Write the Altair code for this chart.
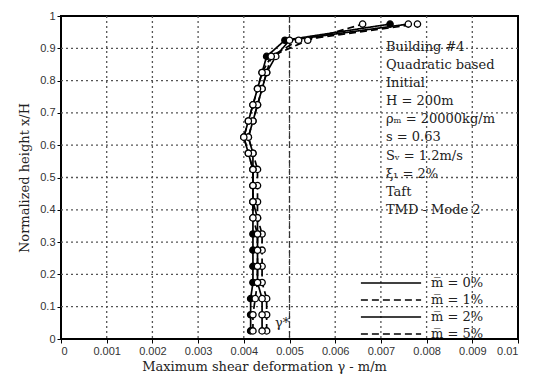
import altair as alt
import pandas as pd

heights = [0.025, 0.075, 0.125, 0.175, 0.225, 0.275, 0.325, 0.375, 0.425, 0.475,
           0.525, 0.575, 0.625, 0.675, 0.725, 0.775, 0.825, 0.875, 0.925, 0.975]

series_names = ["m̅ = 0%", "m̅ = 1%", "m̅ = 2%", "m̅ = 5%"]

s0 = [0.00415, 0.00415, 0.00415, 0.0042, 0.0042, 0.0042, 0.0042, 0.0042, 0.0042, 0.0042,
      0.0042, 0.0041, 0.0040, 0.0041, 0.0042, 0.0043, 0.0044, 0.0045, 0.0049, 0.0072]
s1 = [0.0045, 0.0045, 0.0045, 0.0044, 0.0044, 0.0044, 0.0044, 0.0043, 0.0043, 0.0043,
      0.0043, 0.0042, 0.0041, 0.0042, 0.0043, 0.0044, 0.0045, 0.0046, 0.0052, 0.0078]
s2 = [0.0044, 0.0044, 0.0044, 0.0043, 0.0043, 0.0043, 0.0043, 0.0043, 0.0042, 0.0042,
      0.0042, 0.0042, 0.0041, 0.0042, 0.0043, 0.0044, 0.0045, 0.0047, 0.0050, 0.0076]
s3 = [0.0042, 0.0042, 0.00425, 0.0043, 0.0043, 0.0043, 0.0043, 0.0042, 0.0042, 0.0042,
      0.0042, 0.0041, 0.0040, 0.0041, 0.0042, 0.0043, 0.0044, 0.0046, 0.0054, 0.0066]

gamma_star = [0.005]

ann_lines = ["Building #4", "Quadratic based", "Initial", "H = 200m",
             "ρₘ = 20000kg/m", "s = 0.63", "Sᵥ = 1.2m/s", "ξ₁ = 2%", "Taft", "TMD - Mode 2"]
ann_y = [0.904, 0.848, 0.792, 0.736, 0.680, 0.624, 0.568, 0.512, 0.456, 0.400]
ann_x = 0.00711

x_ticks = [0, 0.001, 0.002, 0.003, 0.004, 0.005, 0.006, 0.007, 0.008, 0.009, 0.01]
y_ticks = [0, 0.1, 0.2, 0.3, 0.4, 0.5, 0.6, 0.7, 0.8, 0.9, 1]

SERIF = "DejaVu Serif"

rows = []
for name, vals in zip(series_names, [s0, s1, s2, s3]):
    for h, v in zip(heights, vals):
        rows.append({"series": name, "gamma": v, "h": h})
df = pd.DataFrame(rows)

xscale = alt.Scale(domain=[0, 0.01], nice=False, zero=False)
yscale = alt.Scale(domain=[0, 1], nice=False)

x_axis = alt.Axis(values=x_ticks, format="~g", labelOverlap=False, grid=False,
                  titleX=203,
                  title="Maximum shear deformation   γ   -   m/m")
y_axis = alt.Axis(values=y_ticks, format="~g", labelOverlap=False, grid=False,
                  title="Normalized height   x/H")


def X():
    return alt.X("gamma:Q", scale=xscale, axis=x_axis)


def Y():
    return alt.Y("h:Q", scale=yscale, axis=y_axis)


gx_df = pd.DataFrame({"gamma": x_ticks[1:-1]})
grid_x = alt.Chart(gx_df).mark_rule(color="#555", strokeDash=[2, 3], strokeWidth=1.3).encode(
    x=X())
gy_df = pd.DataFrame({"h": y_ticks[1:-1]})
grid_y = alt.Chart(gy_df).mark_rule(color="#555", strokeDash=[2, 3], strokeWidth=1.3).encode(
    y=Y())

lines = alt.Chart(df).mark_line(color="black", strokeWidth=1.7).encode(
    x=X(), y=Y(),
    detail="series:N",
    order="h:Q",
    strokeDash=alt.StrokeDash(
        "series:N",
        scale=alt.Scale(domain=series_names,
                        range=[[1, 0], [7, 4], [1, 0], [7, 4]]),
        legend=alt.Legend(title=None, orient="none", legendX=322, legendY=259,
                          symbolType="M-4.3,0H4.3", symbolSize=196,
                          symbolStrokeWidth=1.7, symbolStrokeColor="black",
                          symbolFillColor="transparent",
                          labelFont=SERIF, labelFontSize=13,
                          labelColor="#222", rowPadding=2, labelOffset=32),
    ),
)

points = alt.Chart(df).mark_point(shape="circle", filled=True, stroke="black",
                                  strokeWidth=1.3, size=40, opacity=1).encode(
    x=X(), y=Y(),
    fill=alt.Fill("series:N",
                  scale=alt.Scale(domain=series_names,
                                  range=["black", "white", "white", "white"]),
                  legend=None),
)

rule_df = pd.DataFrame({"gamma": gamma_star})
rule = alt.Chart(rule_df).mark_rule(color="#333", strokeDash=[6, 3], strokeWidth=1.2).encode(
    x=X()
)

gs_df = pd.DataFrame({"gamma": [0.00468], "h": [0.05], "t": ["γ*"]})
gs_text = alt.Chart(gs_df).mark_text(font=SERIF, fontSize=13,
                                     align="left", color="#222").encode(
    x=X(), y=Y(), text="t:N")

ann_df = pd.DataFrame({"gamma": [ann_x] * len(ann_lines), "h": ann_y, "t": ann_lines})
ann = alt.Chart(ann_df).mark_text(font=SERIF, fontSize=13,
                                  align="left", color="#222").encode(
    x=X(), y=Y(), text="t:N")

chart = alt.layer(grid_x, grid_y, rule, lines, points, gs_text, ann).properties(
    width=457, height=323,
    autosize=alt.AutoSizeParams(type="none"),
    padding={"left": 61, "top": 16, "right": 15, "bottom": 38},
).configure_view(
    stroke="black", strokeWidth=2
).configure_axis(
    domain=False, tickColor="black", tickSize=4,
    labelFont="Liberation Sans", labelFontSize=11, labelColor="#333",
    titleFont=SERIF, titleFontSize=13, titleFontWeight="normal",
    titleColor="#222",
).configure_axisX(titlePadding=4, labelPadding=2).configure_axisY(titlePadding=8)

chart.save("out.html", embed_options={"renderer": "svg", "actions": False})
